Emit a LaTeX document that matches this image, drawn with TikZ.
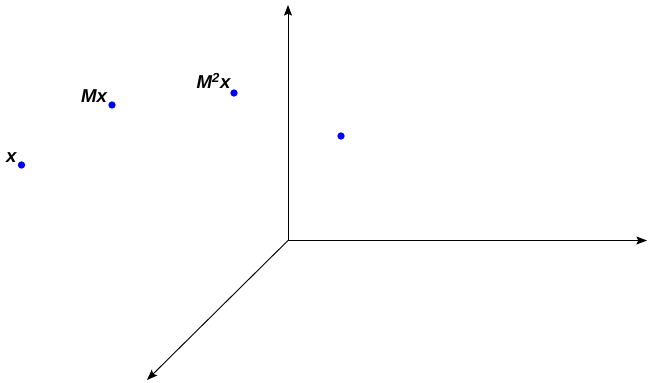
\documentclass[tikz,border=0pt]{standalone}
\usepackage{fontspec}
\setmainfont{Liberation Sans}
\usepackage{tikz}
\usetikzlibrary{arrows.meta}

\begin{document}
\begin{tikzpicture}[x=0.75pt, y=0.75pt, >={Stealth[length=8pt, width=6pt, inset=1.5pt]}]
\tikzstyle{axis} = [draw, ->, line width=0.7pt]
\tikzstyle{dot} = [circle, fill=blue, inner sep=0pt, minimum size=5.5pt]
\tikzstyle{lbl} = [anchor=base east, inner sep=0pt, font=\fontsize{14}{16}\selectfont\bfseries\itshape]

\useasboundingbox (0,0) rectangle (648,382);

\coordinate (O) at (288,141.5);
\coordinate (Z) at (288,377);
\coordinate (X) at (647,141.5);
\coordinate (Y) at (147,2);

\path [axis] (O) -- (Z);
\path [axis] (O) -- (X);
\path [axis] (O) -- (Y);

\node [dot] (x) at (21.5,217) {};
\node [dot] (Mx) at (112,277) {};
\node [dot] (MMx) at (234,289) {};
\node [dot] (P) at (341,246) {};

\node [lbl] (xlab) at ([xshift=-3.5, yshift=1.5]x.center) {x};
\node [lbl] (Mxlab) at ([xshift=-3.5, yshift=1.5]Mx.center) {Mx};
\node [lbl] (MMxlab) at ([xshift=-2.5, yshift=3]MMx.center) {M\textsuperscript{2}x};
\end{tikzpicture}
\end{document}
